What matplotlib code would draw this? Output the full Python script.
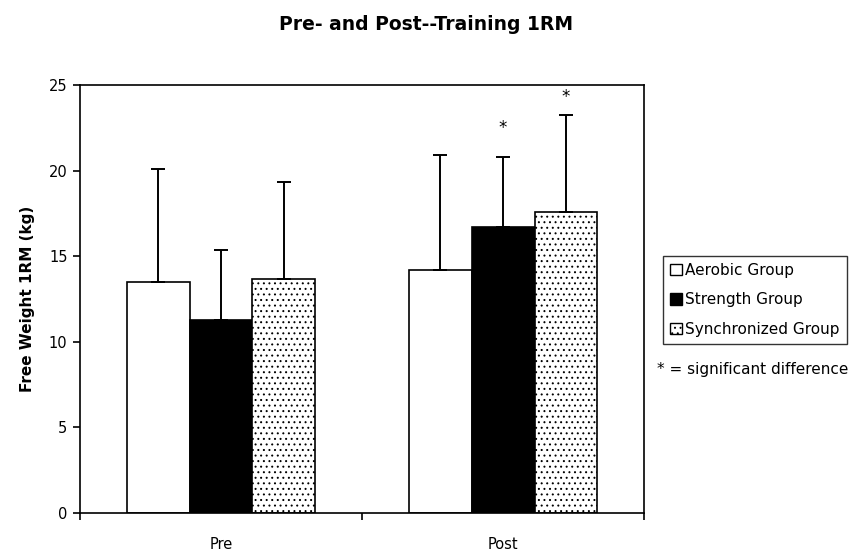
import matplotlib
matplotlib.use('Agg')
import matplotlib.pyplot as plt
from matplotlib.patches import Patch
import numpy as np

plt.rcParams['font.family'] = ['DejaVu Sans']
plt.rcParams['hatch.linewidth'] = 0.7

groups = ['Pre', 'Post']
series_names = ['Aerobic Group', 'Strength Group', 'Synchronized Group']
aerobic = [13.5, 14.2]
strength = [11.3, 16.7]
synchronized = [13.7, 17.6]
aerobic_sd = [6.6, 6.7]
strength_sd = [4.05, 4.1]
synchronized_sd = [5.65, 5.65]
# height of the "*" marks (None = no mark)
star_y = [[None, None], [None, 22.5], [None, 24.3]]

means = [aerobic, strength, synchronized]
sds = [aerobic_sd, strength_sd, synchronized_sd]
faces = ['white', 'black', 'white']
hatches = [None, None, '...']

fig = plt.figure(figsize=(8.6, 5.53), dpi=100)
ax = fig.add_axes([0.093, 0.0723, 0.656, 0.7737])

x = np.arange(len(groups))
w = 0.223
for i in range(3):
    pos = x + (i - 1) * w
    ax.bar(pos, means[i], w, color=faces[i], edgecolor='black', linewidth=1.2,
           hatch=hatches[i], zorder=2)
    ax.errorbar(pos, means[i], yerr=[np.zeros(len(groups)), sds[i]], fmt='none',
                ecolor='black', elinewidth=1.4, capsize=5, capthick=1.4, zorder=3)
    for j in range(len(groups)):
        if star_y[i][j] is not None:
            ax.text(pos[j], star_y[i][j], '*', ha='center', va='center',
                    fontsize=12)

ax.set_xlim(-0.5, 1.5)
ax.set_ylim(0, 25)
ax.set_yticks([0, 5, 10, 15, 20, 25])
ax.set_xticks(x)
ax.set_xticklabels(groups, fontsize=10.5)
ax.set_xticks([-0.5, 0.5, 1.5], minor=True)
ax.tick_params(axis='x', which='major', length=0, pad=17)
ax.tick_params(axis='x', which='minor', length=5, width=1.2, direction='out')
ax.tick_params(axis='y', length=5, width=1.2, labelsize=10.5, pad=4)
for s in ax.spines.values():
    s.set_linewidth(1.2)
ax.set_ylabel('Free Weight 1RM (kg)', fontsize=11, fontweight='bold', labelpad=10)

fig.text(0.496, 0.955, 'Pre- and Post--Training 1RM', ha='center', va='center',
         fontsize=13.5, fontweight='bold')

handles = [Patch(facecolor=faces[i], edgecolor='black', hatch=hatches[i],
                 linewidth=1) for i in range(3)]
leg = fig.legend(handles, series_names, loc='upper left',
                 bbox_to_anchor=(0.771, 0.537), bbox_transform=fig.transFigure,
                 fontsize=11, frameon=True, fancybox=False, handlelength=0.8,
                 handleheight=0.8, handletextpad=0.2, borderpad=0.45,
                 labelspacing=0.95, borderaxespad=0)
leg.get_frame().set_edgecolor('black')
leg.get_frame().set_linewidth(1)

fig.text(0.764, 0.331, '* = significant difference', ha='left', va='center',
         fontsize=11)

fig.savefig('out.png', dpi=100)
